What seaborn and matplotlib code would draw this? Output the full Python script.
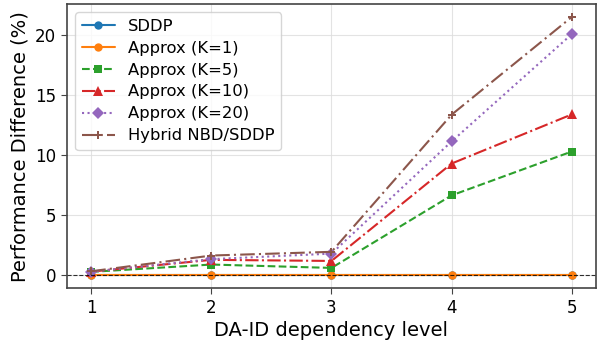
import numpy as np
import pandas as pd
import matplotlib
matplotlib.use("Agg")
import matplotlib.pyplot as plt
import seaborn as sns

levels = [1, 2, 3, 4, 5]
sddp = [0, 0, 0, 0, 0]
approx_k1 = [0, 0, 0, 0, 0]
approx_k5 = [0.28, 0.89, 0.61, 6.65, 10.3]
approx_k10 = [0.3, 1.28, 1.19, 9.3, 13.39]
approx_k20 = [0.3, 1.34, 1.8, 11.14, 20.07]
hybrid = [0.33, 1.64, 1.95, 13.37, 21.5]

series = [
    ("SDDP", sddp, "#1f77b4", "-", "o", 6),
    ("Approx (K=1)", approx_k1, "#ff7f0e", "-", "o", 6),
    ("Approx (K=5)", approx_k5, "#2ca02c", "--", "s", 6),
    ("Approx (K=10)", approx_k10, "#d62728", "-.", "^", 7),
    ("Approx (K=20)", approx_k20, "#9467bd", ":", "D", 6),
    ("Hybrid NBD/SDDP", hybrid, "#8c564b", (0, (7, 2, 1, 2)), "P", 6),
]

sns.set_style("whitegrid")
plt.rcParams['font.family'] = ['DejaVu Sans']
plt.rcParams['text.color'] = 'black'
plt.rcParams['axes.labelcolor'] = 'black'
plt.rcParams['xtick.color'] = 'black'
plt.rcParams['ytick.color'] = 'black'

fig, ax = plt.subplots(figsize=(6.0, 3.41), dpi=100)
for name, vals, col, ls, mk, ms in series:
    df = pd.DataFrame({"level": levels, "val": vals})
    sns.lineplot(data=df, x="level", y="val", ax=ax, color=col,
                 marker=mk, markersize=ms, markeredgewidth=0, legend=False, linewidth=1.5)
    ax.lines[-1].set_linestyle(ls)
    ax.lines[-1].set_label(name)

handles = list(ax.lines)
ax.axhline(0, color="black", linestyle="--", linewidth=0.8, alpha=0.8)
ax.set_xticks(levels)
ax.set_yticks([0, 5, 10, 15, 20])
ax.tick_params(axis="both", labelsize=12, length=4, color="#444444", left=True, bottom=True, pad=4)
ax.set_xlabel("DA-ID dependency level", fontsize=14, labelpad=3)
ax.set_ylabel("Performance Difference (%)", fontsize=14, labelpad=4)
ax.grid(True, color="#dddddd", linewidth=0.8, alpha=0.8)
for s in ax.spines.values():
    s.set_color("#444444")
    s.set_linewidth(1.2)
leg = ax.legend(handles=handles, loc="upper left", fontsize=11.8, frameon=True, framealpha=0.8,
                handlelength=2.0, labelspacing=0.42, borderpad=0.4)
fig.subplots_adjust(left=0.112, right=0.993, top=0.988, bottom=0.155)
fig.savefig("out.png", dpi=100)
